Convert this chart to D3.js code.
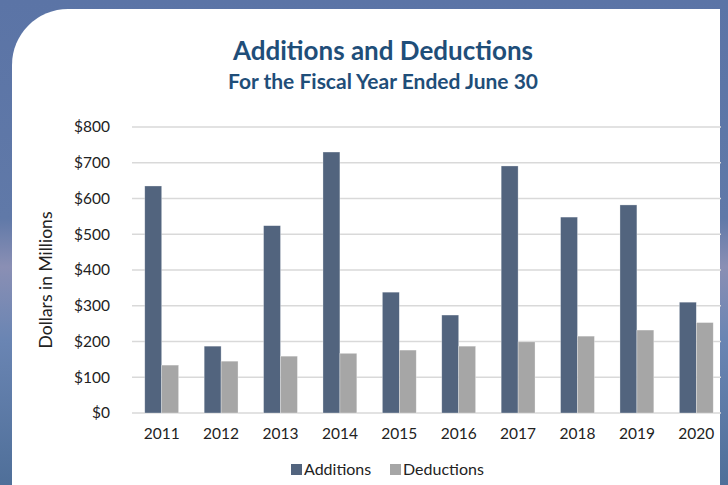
<!DOCTYPE html>
<html>
<head>
<meta charset="utf-8">
<script src="https://cdn.jsdelivr.net/npm/d3@7"></script>
<style>
  body { margin: 0; overflow: hidden; }
  svg { display: block; font-family: Lato, "Open Sans", sans-serif; }
</style>
</head>
<body>
<svg></svg>
<script>
var years = ["2011", "2012", "2013", "2014", "2015", "2016", "2017", "2018", "2019", "2020"];
var additions = [635, 187, 524, 730, 338, 274, 691, 548, 582, 310];
var deductions = [134, 145, 159, 167, 176, 187, 199, 215, 232, 253];
var seriesNames = ["Additions", "Deductions"];
var yTicks = [0, 100, 200, 300, 400, 500, 600, 700, 800];

var width = 728, height = 485;
var paddings = { top: 127, bottom: 72, left: 132, right: 2 };
var colors = { Additions: "#52647e", Deductions: "#a6a6a6" };

var svg = d3.select("svg")
  .attr("width", width)
  .attr("height", height);

//Background
var defs = svg.append("defs");
var grad = defs.append("linearGradient")
  .attr("id", "bg")
  .attr("x1", 0).attr("y1", 0).attr("x2", 0).attr("y2", 1);
grad.append("stop").attr("offset", "0%").attr("stop-color", "#5b74a6");
grad.append("stop").attr("offset", "45%").attr("stop-color", "#6079a8");
grad.append("stop").attr("offset", "55%").attr("stop-color", "#8a8fb4");
grad.append("stop").attr("offset", "70%").attr("stop-color", "#6a85b3");
grad.append("stop").attr("offset", "100%").attr("stop-color", "#4f6f99");

svg.append("rect")
  .attr("width", width)
  .attr("height", height)
  .attr("fill", "url(#bg)");

//White panel with rounded top-left corner
var px = 12, py = 9, pr = 720, r = 56;
svg.append("path")
  .attr("d", "M" + px + "," + (height + 5) + " L" + px + "," + (py + r) +
    " A" + r + "," + r + " 0 0 1 " + (px + r) + "," + py +
    " L" + pr + "," + py + " L" + pr + "," + (height + 5) + " Z")
  .attr("fill", "#ffffff");

var xscale = d3.scaleBand()
  .domain(years)
  .range([paddings.left, width - paddings.right])
  .paddingInner(0.43)
  .paddingOuter(0.215);

var xsub = d3.scaleBand()
  .domain(seriesNames)
  .range([0, xscale.bandwidth()]);

var yscale = d3.scaleLinear()
  .domain([0, 800])
  .range([height - paddings.bottom, paddings.top]);

//Gridlines
svg.append("g")
  .selectAll("line")
  .data(yTicks)
  .enter()
  .append("line")
  .attr("x1", paddings.left)
  .attr("x2", 721)
  .attr("y1", function(d){ return yscale(d); })
  .attr("y2", function(d){ return yscale(d); })
  .attr("stroke", "#d9d9d9")
  .attr("stroke-width", 1.5);

//Y axis labels
var yaxis = d3.axisLeft(yscale)
  .tickValues(yTicks)
  .tickFormat(function(d){ return "$" + d; })
  .tickSize(0)
  .tickPadding(22);

svg.append("g")
  .attr("transform", "translate(" + paddings.left + ",0)")
  .call(yaxis)
  .call(function(g){ g.select(".domain").remove(); })
  .selectAll("text")
  .attr("font-family", "Lato, sans-serif")
  .attr("font-size", 15.5)
  .attr("fill", "#222");

//X axis labels
var xaxis = d3.axisBottom(xscale).tickSize(0).tickPadding(15);
svg.append("g")
  .attr("transform", "translate(0," + yscale(0) + ")")
  .call(xaxis)
  .call(function(g){ g.select(".domain").remove(); })
  .selectAll("text")
  .attr("font-family", "Lato, sans-serif")
  .attr("font-size", 15.5)
  .attr("fill", "#222");

//Bars
var rows = years.map(function(y, i){
  return { year: y, values: [
    { name: "Additions", value: additions[i] },
    { name: "Deductions", value: deductions[i] }
  ]};
});

svg.append("g")
  .selectAll("g")
  .data(rows)
  .enter()
  .append("g")
  .attr("transform", function(d){ return "translate(" + xscale(d.year) + ",0)"; })
  .selectAll("rect")
  .data(function(d){ return d.values; })
  .enter()
  .append("rect")
  .attr("x", function(d){ return xsub(d.name); })
  .attr("y", function(d){ return yscale(d.value); })
  .attr("width", xsub.bandwidth())
  .attr("height", function(d){ return yscale(0) - yscale(d.value); })
  .attr("fill", function(d){ return colors[d.name]; })
  .attr("stroke", "#ffffff")
  .attr("stroke-opacity", 0.5)
  .attr("stroke-width", 0.6);

//Titles
svg.append("text")
  .attr("x", 383)
  .attr("y", 60)
  .attr("text-anchor", "middle")
  .attr("font-size", 26)
  .attr("font-weight", "bold")
  .attr("fill", "#1f4e79")
  .text("Additions and Deductions");

svg.append("text")
  .attr("x", 383)
  .attr("y", 89)
  .attr("text-anchor", "middle")
  .attr("font-size", 21)
  .attr("font-weight", "bold")
  .attr("fill", "#1f4e79")
  .text("For the Fiscal Year Ended June 30");

//Y title
svg.append("text")
  .attr("transform", "translate(52,280) rotate(-90)")
  .attr("text-anchor", "middle")
  .attr("font-size", 17.5)
  .attr("fill", "#222")
  .text("Dollars in Millions");

//Legend
var legend = svg.append("g")
  .attr("transform", "translate(291,464)");
var items = legend.selectAll("g")
  .data(seriesNames)
  .enter()
  .append("g")
  .attr("transform", function(d, i){ return "translate(" + (i * 99) + ",0)"; });
items.append("rect")
  .attr("width", 11)
  .attr("height", 11)
  .attr("fill", function(d){ return colors[d]; });
items.append("text")
  .attr("x", 13)
  .attr("y", 10.5)
  .attr("font-size", 16)
  .attr("fill", "#222")
  .text(function(d){ return d; });
</script>
</body>
</html>
